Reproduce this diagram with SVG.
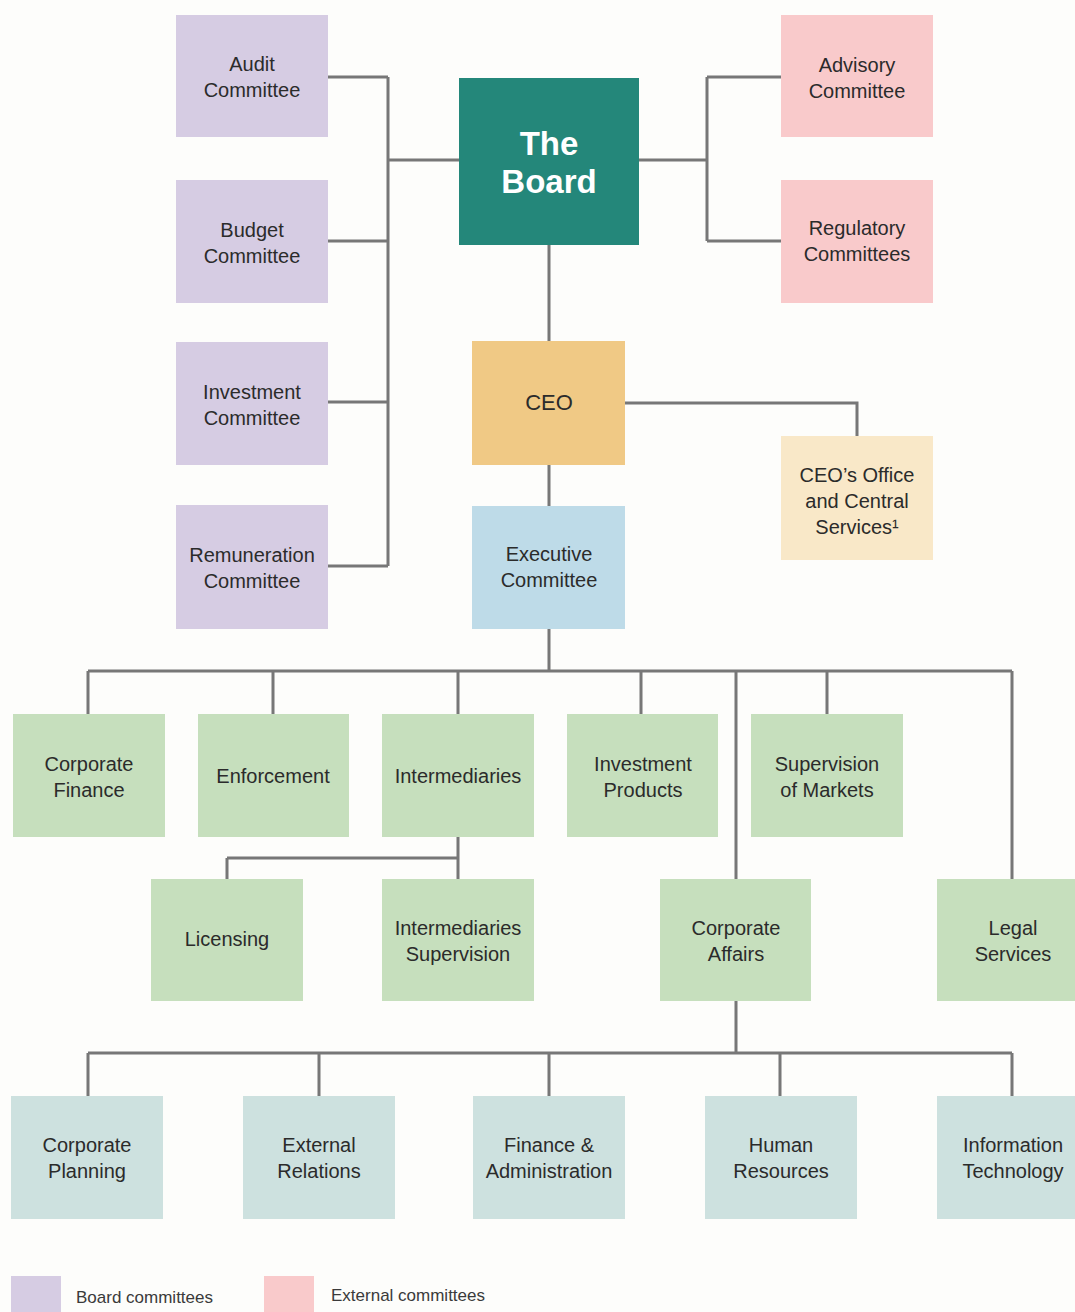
<svg xmlns="http://www.w3.org/2000/svg" width="1075" height="1312" viewBox="0 0 1075 1312">
<style>
text{font-family:"Liberation Sans",Arial,sans-serif;font-size:20px;fill:#2b2b2b;text-anchor:middle}
.big{font-size:33px;font-weight:bold;fill:#ffffff}
.ceo{font-size:22px}
.leg{font-size:17px;text-anchor:start;fill:#3a3a3a}
.board{fill:#d6cce3}
.ext{fill:#f9cacb}
.top{fill:#24877a}
.chief{fill:#f0c985}
.office{fill:#f9e8c8}
.exec{fill:#bedbe8}
.div{fill:#c6dfbd}
.svc{fill:#cde1df}
.conn path{fill:none;stroke:#777777;stroke-width:3}
</style>
<rect x="0" y="0" width="1075" height="1312" fill="#fdfdfb"/>
<g class="conn" id="connectors">
<path d="M328 77H388M328 241H388M328 402H388M328 566H388M388 77V566M388 160H459"/>
<path d="M639 160H707M707 77V241M707 77H781M707 241H781"/>
<path d="M549 245V341M549 465V506M625 403H857V436"/>
<path d="M549 629V671M88 671H1012M88 671V714M273 671V714M458 671V714M641 671V714M827 671V714M736 671V879M1012 671V879"/>
<path d="M458 837V879M227 858H458M227 858V879"/>
<path d="M736 1001V1053M88 1053H1012M88 1053V1096M319 1053V1096M549 1053V1096M780 1053V1096M1012 1053V1096"/>
</g>
<g id="audit"><rect class="board" x="176" y="15" width="152" height="122"/><text x="252" y="71">Audit</text><text x="252" y="97">Committee</text></g>
<g id="budget"><rect class="board" x="176" y="180" width="152" height="123"/><text x="252" y="237">Budget</text><text x="252" y="263">Committee</text></g>
<g id="investment-committee"><rect class="board" x="176" y="342" width="152" height="123"/><text x="252" y="399">Investment</text><text x="252" y="425">Committee</text></g>
<g id="remuneration"><rect class="board" x="176" y="505" width="152" height="124"/><text x="252" y="562">Remuneration</text><text x="252" y="588">Committee</text></g>
<g id="the-board"><rect class="top" x="459" y="78" width="180" height="167"/><text class="big" x="549" y="155">The</text><text class="big" x="549" y="193">Board</text></g>
<g id="advisory"><rect class="ext" x="781" y="15" width="152" height="122"/><text x="857" y="72">Advisory</text><text x="857" y="98">Committee</text></g>
<g id="regulatory"><rect class="ext" x="781" y="180" width="152" height="123"/><text x="857" y="235">Regulatory</text><text x="857" y="261">Committees</text></g>
<g id="ceo"><rect class="chief" x="472" y="341" width="153" height="124"/><text class="ceo" x="549" y="410">CEO</text></g>
<g id="ceo-office"><rect class="office" x="781" y="436" width="152" height="124"/><text x="857" y="482">CEO’s Office</text><text x="857" y="508">and Central</text><text x="857" y="534">Services¹</text></g>
<g id="executive"><rect class="exec" x="472" y="506" width="153" height="123"/><text x="549" y="561">Executive</text><text x="549" y="587">Committee</text></g>
<g id="corporate-finance"><rect class="div" x="13" y="714" width="152" height="123"/><text x="89" y="771">Corporate</text><text x="89" y="797">Finance</text></g>
<g id="enforcement"><rect class="div" x="198" y="714" width="151" height="123"/><text x="273" y="783">Enforcement</text></g>
<g id="intermediaries"><rect class="div" x="382" y="714" width="152" height="123"/><text x="458" y="783">Intermediaries</text></g>
<g id="investment-products"><rect class="div" x="567" y="714" width="151" height="123"/><text x="643" y="771">Investment</text><text x="643" y="797">Products</text></g>
<g id="supervision-markets"><rect class="div" x="751" y="714" width="152" height="123"/><text x="827" y="771">Supervision</text><text x="827" y="797">of Markets</text></g>
<g id="licensing"><rect class="div" x="151" y="879" width="152" height="122"/><text x="227" y="946">Licensing</text></g>
<g id="intermediaries-supervision"><rect class="div" x="382" y="879" width="152" height="122"/><text x="458" y="935">Intermediaries</text><text x="458" y="961">Supervision</text></g>
<g id="corporate-affairs"><rect class="div" x="660" y="879" width="151" height="122"/><text x="736" y="935">Corporate</text><text x="736" y="961">Affairs</text></g>
<g id="legal-services"><rect class="div" x="937" y="879" width="152" height="122"/><text x="1013" y="935">Legal</text><text x="1013" y="961">Services</text></g>
<g id="corporate-planning"><rect class="svc" x="11" y="1096" width="152" height="123"/><text x="87" y="1152">Corporate</text><text x="87" y="1178">Planning</text></g>
<g id="external-relations"><rect class="svc" x="243" y="1096" width="152" height="123"/><text x="319" y="1152">External</text><text x="319" y="1178">Relations</text></g>
<g id="finance-admin"><rect class="svc" x="473" y="1096" width="152" height="123"/><text x="549" y="1152">Finance &amp;</text><text x="549" y="1178">Administration</text></g>
<g id="human-resources"><rect class="svc" x="705" y="1096" width="152" height="123"/><text x="781" y="1152">Human</text><text x="781" y="1178">Resources</text></g>
<g id="information-technology"><rect class="svc" x="937" y="1096" width="152" height="123"/><text x="1013" y="1152">Information</text><text x="1013" y="1178">Technology</text></g>
<g id="legend">
<rect class="board" x="11" y="1276" width="50" height="40"/><text class="leg" x="76" y="1303">Board committees</text>
<rect class="ext" x="264" y="1276" width="50" height="40"/><text class="leg" x="331" y="1301">External committees</text>
</g>
</svg>
